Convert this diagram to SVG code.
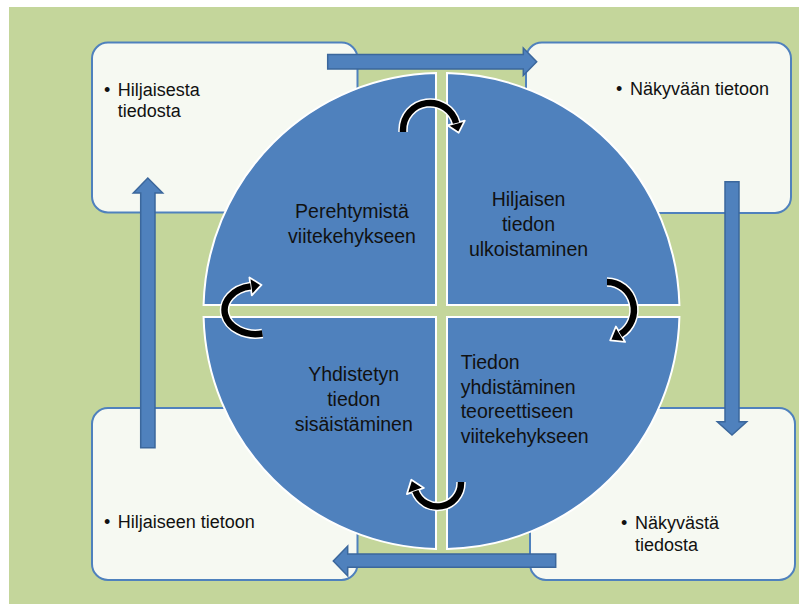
<svg xmlns="http://www.w3.org/2000/svg" width="799" height="604" viewBox="0 0 799 604">
<style>
.box{fill:#F6F9F2;stroke:#4F81BD;stroke-width:2}
.blk{fill:#4F81BD;stroke:#3B679C;stroke-width:1.5}
.q{fill:#4F81BD;stroke:#FFFFFF;stroke-width:2}
.bt{font-family:"Liberation Sans",Arial,sans-serif;font-size:18px;fill:#111}
.ct{font-family:"Liberation Sans",Arial,sans-serif;font-size:19.5px;fill:#111}
.cw{fill:none;stroke:#FFFFFF;stroke-width:9.5}
.cb{fill:none;stroke:#000;stroke-width:6.5}
.hd{fill:#000;stroke:#FFFFFF;stroke-width:1.8;stroke-linejoin:round}
</style>
<rect x="9" y="7" width="790" height="597" fill="#C4D69B"/>
<g id="box-hiljaisesta">
<rect class="box" x="92" y="42.5" width="265.5" height="170" rx="16"/>
<text class="bt" y="95.7"><tspan x="104">•</tspan><tspan x="117.7">Hiljaisesta</tspan></text>
<text class="bt" x="117.7" y="117.3">tiedosta</text>
</g>
<g id="box-nakyvaan">
<rect class="box" x="526" y="42.5" width="265" height="170.5" rx="16"/>
<text class="bt" y="95"><tspan x="616">•</tspan><tspan x="630">Näkyvään tietoon</tspan></text>
</g>
<g id="box-hiljaiseen">
<rect class="box" x="92" y="408" width="265.5" height="172" rx="16"/>
<text class="bt" y="528.3"><tspan x="104">•</tspan><tspan x="117.7">Hiljaiseen tietoon</tspan></text>
</g>
<g id="box-nakyvasta">
<rect class="box" x="530" y="408" width="265" height="172" rx="16"/>
<text class="bt" y="529"><tspan x="621">•</tspan><tspan x="635">Näkyvästä</tspan></text>
<text class="bt" x="635" y="550.7">tiedosta</text>
</g>
<g id="connectors">
<polygon class="blk" points="327.7,54.5 523.3,54.5 523.3,48 536.7,61.75 523.3,75.5 523.3,69 327.7,69"/>
<polygon class="blk" points="725,181.7 739,181.7 739,421.7 746.7,421.7 732,435 717.3,421.7 725,421.7"/>
<polygon class="blk" points="555.7,554 555.7,567.3 347.7,567.3 347.7,576 333.3,561 347.7,546 347.7,554"/>
<polygon class="blk" points="140.7,447.7 155,447.7 155,193 162.7,193 147.8,178 133.3,193 140.7,193"/>
</g>
<g id="circle">
<path class="q" d="M436,305 L203.58,305 A238,238 0 0 1 436,73.06 Z"/>
<path class="q" d="M447,305 L447,73.06 A238,238 0 0 1 679.42,305 Z"/>
<path class="q" d="M447,317 L679.42,317 A238,238 0 0 1 447,548.94 Z"/>
<path class="q" d="M436,317 L436,548.94 A238,238 0 0 1 203.58,317 Z"/>
</g>
<g id="q-perehtymista">
<text class="ct" text-anchor="middle"><tspan x="352" y="218.3">Perehtymistä</tspan><tspan x="352" y="243.3">viitekehykseen</tspan></text>
</g>
<g id="q-ulkoistaminen">
<text class="ct" text-anchor="middle"><tspan x="528.5" y="205.5">Hiljaisen</tspan><tspan x="528.5" y="230.5">tiedon</tspan><tspan x="528.5" y="255.5">ulkoistaminen</tspan></text>
</g>
<g id="q-sisaistaminen">
<text class="ct" text-anchor="middle"><tspan x="353.7" y="380.7">Yhdistetyn</tspan><tspan x="353.7" y="405.7">tiedon</tspan><tspan x="353.7" y="430.5">sisäistäminen</tspan></text>
</g>
<g id="q-yhdistaminen">
<text class="ct"><tspan x="460.7" y="369">Tiedon</tspan><tspan x="460.7" y="393.5">yhdistäminen</tspan><tspan x="460.7" y="418">teoreettiseen</tspan><tspan x="460.7" y="442.5">viitekehykseen</tspan></text>
</g>
<g id="curved-arrows">
<path class="cw" d="M403,132 L403,130 A27,27 0 0 1 456.1,123"/>
<polygon class="hd" points="464.8,120.7 458.7,132.7 447.4,125.3"/>
<path class="cb" d="M403,132 L403,130 A27,27 0 0 1 456.1,123"/>
<path class="cw" d="M607,282 A27,28 0 0 1 620.5,334.2"/>
<polygon class="hd" points="625.1,341.9 610.2,340.4 615.9,326.5"/>
<path class="cb" d="M607,282 A27,28 0 0 1 620.5,334.2"/>
<path class="cw" d="M461,482 L461,483 A23.5,23.5 0 0 1 415.4,491"/>
<polygon class="hd" points="423.9,487.9 411.3,479.7 406.9,494.1"/>
<path class="cb" d="M461,482 L461,483 A23.5,23.5 0 0 1 415.4,491"/>
<path class="cw" d="M262.4,333.5 A31,24 0 1 1 250.6,286.4"/>
<polygon class="hd" points="251.8,295.3 261.5,284.9 249.4,277.5"/>
<path class="cb" d="M262.4,333.5 A31,24 0 1 1 250.6,286.4"/>
</g>
</svg>
